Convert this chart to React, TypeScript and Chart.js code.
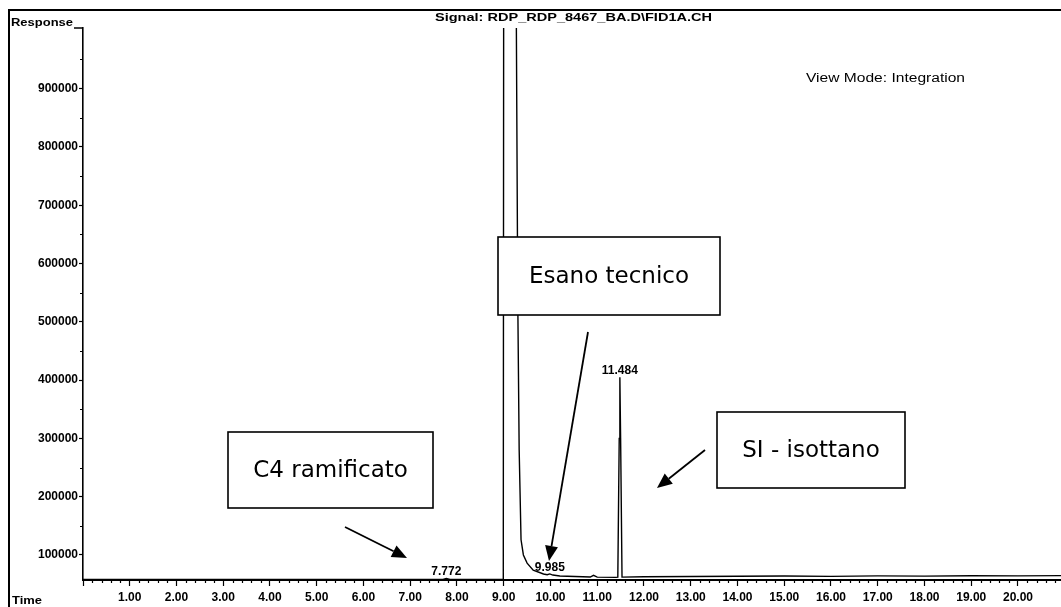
import React, { useEffect, useRef } from 'react';
import { Chart, registerables } from 'chart.js';

Chart.register(...registerables);

// ---- data (retention time in minutes, detector response) ----
const times = [
  0, 2.0, 4.0, 6.0, 7.70, 7.772, 7.85, 8.99, 9.00, 9.01, 9.13, 9.27, 9.30, 9.33,
  9.37, 9.42, 9.50, 9.63, 9.85, 9.93, 9.985, 10.05, 10.2, 10.85, 10.92, 11.0,
  11.40, 11.44, 11.47, 11.484, 11.50, 11.53, 12.0, 13.0, 14.0, 15.0, 16.0, 17.0,
  18.0, 19.0, 20.0, 20.92,
];
const responses = [
  57800, 57900, 58000, 58000, 58100, 59800, 58100, 58300, 58300, 2500000, 3000000,
  1004000, 537000, 280000, 126000, 100000, 86000, 74000, 67300, 66000, 67500,
  65500, 63900, 62100, 65000, 62000, 61500, 62000, 300000, 405000, 300000, 62000,
  62500, 63000, 63500, 63800, 63200, 64000, 63600, 64300, 64000, 64500,
];
const xTicks = [0, 1, 2, 3, 4, 5, 6, 7, 8, 9, 10, 11, 12, 13, 14, 15, 16, 17, 18, 19, 20];
const yTicks = [100000, 200000, 300000, 400000, 500000, 600000, 700000, 800000, 900000];
const peakTimes = [7.772, 9.985, 11.484];
const peakLabels = ['7.772', '9.985', '11.484'];
const peakResponses = [59800, 67500, 405000];
const annotationTexts = ['C4 ramificato', 'Esano tecnico', 'SI - isottano'];
const signalTitle = 'Signal: RDP_RDP_8467_BA.D\\FID1A.CH';
const viewModeText = 'View Mode: Integration';
const yAxisTitle = 'Response';
const xAxisTitle = 'Time';

const X_MIN = 0;
const X_MAX = 20.92;
const Y_MIN = 57000;
const Y_MAX = 1004000;

// ---- layout (pixels) ----
const W = 1061;
const H = 607;
const BOXES = [
  { x: 228, y: 432, w: 205, h: 76 },
  { x: 498, y: 237, w: 222, h: 78 },
  { x: 717, y: 412, w: 188, h: 76 },
];
const ARROWS = [
  [345, 527, 407, 558],
  [588, 332, 549, 561],
  [705, 450, 657, 488],
];

const LABEL_FONT = "bold 12px 'Liberation Sans', Arial, sans-serif";

function stretchedText(
  ctx: CanvasRenderingContext2D,
  text: string,
  x: number,
  y: number,
  font: string,
  width: number | null,
  align: 'left' | 'center' | 'right' = 'left'
) {
  ctx.save();
  ctx.font = font;
  ctx.textBaseline = 'alphabetic';
  ctx.textAlign = 'left';
  const w = ctx.measureText(text).width;
  const sx = width ? width / w : 1;
  ctx.translate(x, y);
  ctx.scale(sx, 1);
  let ox = 0;
  if (align === 'center') ox = -w / 2;
  else if (align === 'right') ox = -w;
  ctx.fillStyle = '#000';
  ctx.fillText(text, ox, 0);
  ctx.restore();
}

function drawArrow(ctx: CanvasRenderingContext2D, x1: number, y1: number, x2: number, y2: number) {
  const ang = Math.atan2(y2 - y1, x2 - x1);
  const L = 15;
  const HW = 6.5;
  const bx = x2 - L * Math.cos(ang);
  const by = y2 - L * Math.sin(ang);
  ctx.beginPath();
  ctx.moveTo(x1, y1);
  ctx.lineTo(bx, by);
  ctx.lineWidth = 1.8;
  ctx.strokeStyle = '#000';
  ctx.stroke();
  ctx.beginPath();
  ctx.moveTo(x2, y2);
  ctx.lineTo(bx - HW * Math.sin(ang), by + HW * Math.cos(ang));
  ctx.lineTo(bx + HW * Math.sin(ang), by - HW * Math.cos(ang));
  ctx.closePath();
  ctx.fillStyle = '#000';
  ctx.fill();
}

const overlayPlugin = {
  id: 'chromOverlay',
  afterDraw(chart: any) {
    const ctx: CanvasRenderingContext2D = chart.ctx;
    const xs = chart.scales.x;
    const ys = chart.scales.y;
    const area = chart.chartArea;
    ctx.save();
    ctx.strokeStyle = '#000';
    ctx.fillStyle = '#000';

    // outer frame (left + top)
    ctx.lineWidth = 2;
    ctx.beginPath();
    ctx.moveTo(9, H);
    ctx.lineTo(9, 10);
    ctx.lineTo(W, 10);
    ctx.stroke();

    // minor x ticks every 0.2 min
    ctx.lineWidth = 1.2;
    ctx.beginPath();
    for (let i = 1; i * 0.2 <= X_MAX; i++) {
      if (i % 5 === 0) continue;
      const px = Math.round(xs.getPixelForValue(i * 0.2)) + 0.5;
      ctx.moveTo(px, area.bottom);
      ctx.lineTo(px, area.bottom + 3);
    }
    // minor y ticks every 50000
    for (let v = 150000; v < Y_MAX; v += 100000) {
      const py = Math.round(ys.getPixelForValue(v)) + 0.5;
      ctx.moveTo(area.left - 3, py);
      ctx.lineTo(area.left, py);
    }
    ctx.stroke();

    // header texts
    stretchedText(ctx, yAxisTitle, 11, 26, "bold 11px 'Liberation Sans', Arial", 62);
    ctx.lineWidth = 1.5;
    ctx.beginPath();
    ctx.moveTo(74, area.top);
    ctx.lineTo(area.left, area.top);
    ctx.stroke();
    stretchedText(ctx, signalTitle, 435, 21, "bold 11px 'Liberation Sans', Arial", 277);
    stretchedText(ctx, viewModeText, 806, 82, "12px 'Liberation Sans', Arial", 159);
    stretchedText(ctx, xAxisTitle, 12, 604, "bold 11px 'Liberation Sans', Arial", 30);

    // peak labels
    for (let i = 0; i < peakTimes.length; i++) {
      const px = xs.getPixelForValue(peakTimes[i]);
      const py = ys.getPixelForValue(peakResponses[i]);
      stretchedText(ctx, peakLabels[i], px, py - 3, LABEL_FONT, null, 'center');
    }

    // annotation boxes
    for (let i = 0; i < BOXES.length; i++) {
      const b = BOXES[i];
      ctx.fillStyle = '#fff';
      ctx.fillRect(b.x, b.y, b.w, b.h);
      ctx.lineWidth = 1.6;
      ctx.strokeStyle = '#000';
      ctx.strokeRect(b.x, b.y, b.w, b.h);
      ctx.fillStyle = '#000';
      ctx.font = "23px 'DejaVu Sans', Verdana, sans-serif";
      ctx.textAlign = 'center';
      ctx.textBaseline = 'middle';
      ctx.fillText(annotationTexts[i], b.x + b.w / 2, b.y + b.h / 2 + 1);
    }

    // arrows
    for (const a of ARROWS) drawArrow(ctx, a[0], a[1], a[2], a[3]);

    ctx.restore();
  },
};

export default function App() {
  const canvasRef = useRef<HTMLCanvasElement | null>(null);

  useEffect(() => {
    const canvas = canvasRef.current;
    if (!canvas) return;
    const points = times.map((t, i) => ({ x: t, y: responses[i] }));
    const tickFont = { family: "'Liberation Sans', Arial, sans-serif", size: 12, weight: 'bold' as const };
    const chart = new Chart(canvas, {
      type: 'line',
      data: {
        datasets: [
          {
            data: points,
            borderColor: '#000',
            borderWidth: 1.4,
            pointRadius: 0,
            tension: 0,
            fill: false,
          },
        ],
      },
      options: {
        animation: false,
        responsive: false,
        maintainAspectRatio: false,
        events: [],
        layout: { padding: { top: 28, left: 0, right: 0, bottom: 0 } },
        plugins: {
          legend: { display: false },
          tooltip: { enabled: false },
          title: { display: false },
        },
        scales: {
          x: {
            type: 'linear',
            min: X_MIN,
            max: X_MAX,
            afterBuildTicks(scale: any) {
              scale.ticks = xTicks.map((v) => ({ value: v }));
            },
            afterFit(scale: any) {
              scale.height = H - 580;
            },
            border: { color: '#000', width: 2 },
            grid: { drawOnChartArea: false, color: '#000', tickLength: 6, tickWidth: 1.2 },
            ticks: {
              autoSkip: false,
              maxRotation: 0,
              minRotation: 0,
              padding: 4,
              color: '#000',
              font: tickFont,
              callback: (v: any) => (v >= 1 ? Number(v).toFixed(2) : ''),
            },
          },
          y: {
            type: 'linear',
            min: Y_MIN,
            max: Y_MAX,
            afterBuildTicks(scale: any) {
              scale.ticks = yTicks.map((v) => ({ value: v }));
            },
            afterFit(scale: any) {
              scale.width = 83;
            },
            border: { color: '#000', width: 1.6 },
            grid: { drawOnChartArea: false, color: '#000', tickLength: 4, tickWidth: 1.2 },
            ticks: {
              autoSkip: false,
              padding: 1,
              color: '#000',
              font: tickFont,
              callback: (v: any) => String(v),
            },
          },
        },
      },
      plugins: [overlayPlugin],
    });
    return () => chart.destroy();
  }, []);

  return (
    <div style={{ position: 'absolute', left: 0, top: 0, width: W, height: H, background: '#fff' }}>
      <canvas ref={canvasRef} width={W} height={H} style={{ width: W, height: H, display: 'block' }} />
    </div>
  );
}
